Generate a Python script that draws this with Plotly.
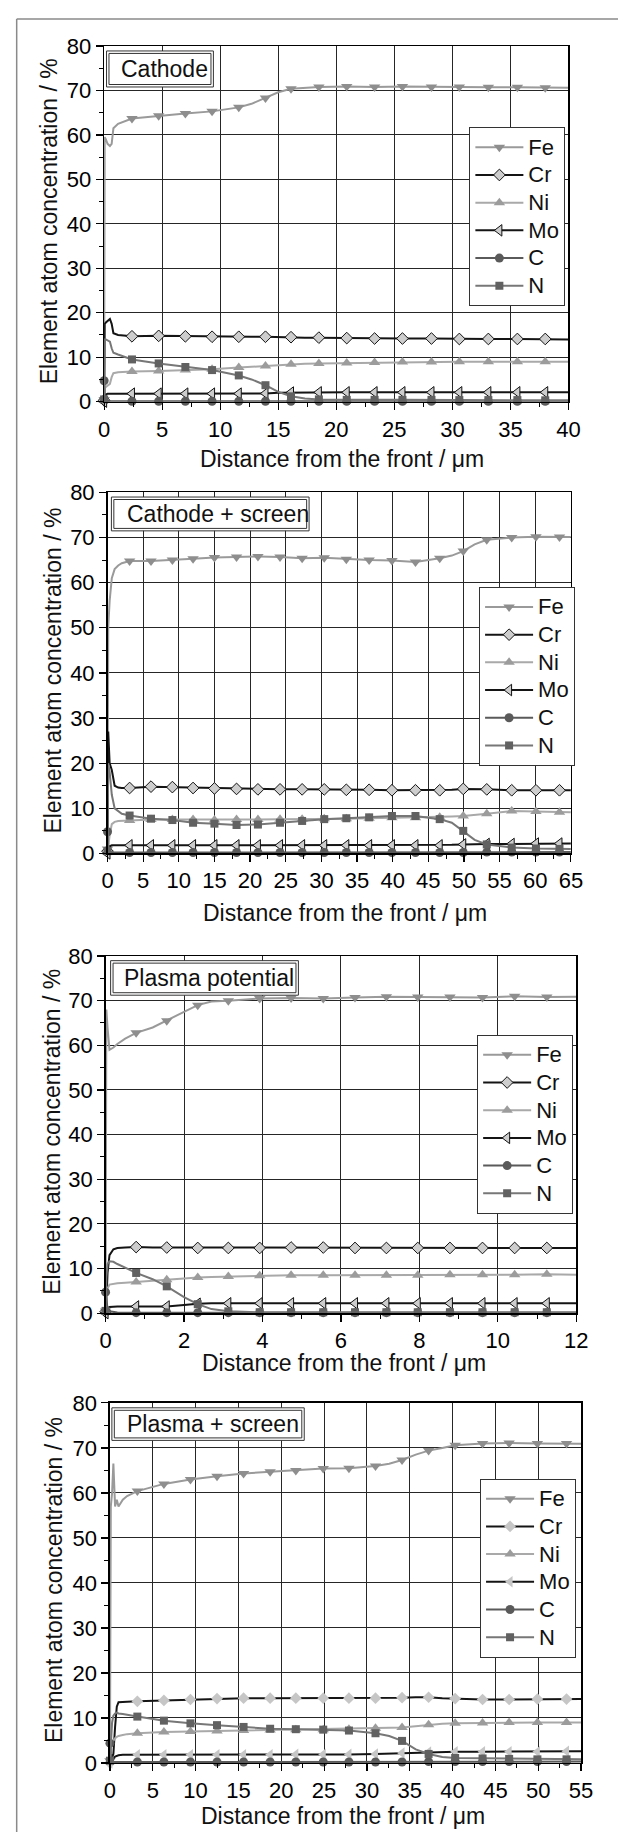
import plotly.graph_objects as go

W, H = 630, 1845
FONT = "Liberation Sans, Arial, Helvetica, sans-serif"

ELEMENTS = ["Fe", "Cr", "Ni", "Mo", "C", "N"]
X_TITLE = "Distance from the front / \u03bcm"
Y_TITLE = "Element atom concentration / %"

# ---------------- Panel 1 : Cathode ----------------
CATH_X = [0, 0.05, 0.15, 0.3, 0.5, 0.65, 0.8, 1.2, 2.4, 4.7, 7.0, 9.3, 11.6, 12.7,
          13.9, 15.0, 16.1, 17.3, 18.5, 20.9, 23.3, 25.7, 28.2, 30.6, 33.1, 35.6, 38.0, 40.0]
CATH_MARK_X = [0, 2.4, 4.7, 7.0, 9.3, 11.6, 13.9, 16.1, 18.5, 20.9, 23.3, 25.7, 28.2,
               30.6, 33.1, 35.6, 38.0]
CATH_FE = [0.5, 59.5, 59.0, 58.0, 57.5, 58.0, 61.5, 62.5, 63.7, 64.3, 64.8, 65.3, 66.2, 67.0,
           68.3, 69.6, 70.4, 70.6, 70.8, 70.9, 70.8, 70.9, 70.8, 70.8, 70.7, 70.7, 70.6, 70.6]
CATH_CR = [0.3, 17.5, 17.8, 18.2, 18.6, 17.5, 15.4, 15.0, 14.7, 14.8, 14.7, 14.6, 14.6, 14.6,
           14.6, 14.5, 14.5, 14.4, 14.4, 14.3, 14.2, 14.2, 14.2, 14.1, 14.1, 14.1, 14.1, 14.0]
CATH_NI = [0.3, 3.0, 3.3, 3.6, 4.0, 5.5, 6.4, 6.6, 6.8, 6.9, 7.1, 7.3, 7.7, 7.8,
           8.0, 8.2, 8.4, 8.5, 8.6, 8.7, 8.8, 8.9, 8.9, 9.0, 9.0, 9.0, 9.0, 9.0]
CATH_MO = [0.0, 1.0, 1.6, 1.8, 1.8, 1.8, 1.8, 1.8, 1.8, 1.8, 1.8, 1.8, 1.8, 1.8,
           1.85, 2.0, 2.05, 2.1, 2.1, 2.1, 2.1, 2.1, 2.1, 2.1, 2.1, 2.1, 2.1, 2.1]
CATH_C = [4.7, 1.5, 0.5, 0.2, 0.15, 0.1, 0.1, 0.1, 0.1, 0.1, 0.1, 0.1, 0.1, 0.1,
          0.1, 0.1, 0.1, 0.1, 0.1, 0.1, 0.1, 0.1, 0.1, 0.1, 0.1, 0.1, 0.1, 0.1]
CATH_N = [0.5, 14.0, 14.0, 13.8, 13.5, 12.0, 11.0, 10.6, 9.5, 8.6, 7.8, 7.1, 5.9, 5.0,
          3.7, 2.2, 1.2, 0.7, 0.5, 0.4, 0.4, 0.4, 0.4, 0.35, 0.35, 0.35, 0.3, 0.3]

# ---------------- Panel 2 : Cathode + screen ----------------
CS_X = [0, 0.1, 0.3, 0.6, 1.0, 1.5, 2.0, 3.1, 6.1, 9.1, 12.0, 15.0, 18.1, 21.1, 24.2,
        27.3, 30.4, 33.5, 36.7, 39.9, 43.2, 46.6, 48.3, 49.9, 51.5, 53.2, 56.7, 60.1, 63.4, 65.0]
CS_MARK_X = [0, 3.1, 6.1, 9.1, 12.0, 15.0, 18.1, 21.1, 24.2, 27.3, 30.4, 33.5, 36.7,
             39.9, 43.2, 46.6, 49.9, 53.2, 56.7, 60.1, 63.4]
CS_FE = [1.0, 50.0, 56.0, 61.0, 63.0, 63.8, 64.3, 64.8, 64.8, 65.0, 65.3, 65.6, 65.7, 65.8, 65.7,
         65.4, 65.5, 65.2, 65.0, 64.9, 64.6, 65.4, 66.0, 67.0, 68.5, 69.5, 70.0, 70.2, 70.1, 70.1]
CS_CR = [0.5, 27.0, 20.0, 18.5, 15.0, 14.6, 14.5, 14.5, 14.8, 14.7, 14.5, 14.4, 14.3, 14.2, 14.2,
         14.2, 14.2, 14.1, 14.1, 14.0, 14.0, 14.0, 14.1, 14.3, 14.3, 14.2, 14.0, 14.0, 14.0, 14.0]
CS_NI = [0.3, 2.0, 4.0, 6.5, 7.0, 7.2, 7.2, 7.3, 7.5, 7.5, 7.5, 7.4, 7.5, 7.5, 7.6,
         7.6, 7.7, 7.7, 7.8, 7.9, 7.9, 8.0, 8.2, 8.3, 8.5, 8.8, 9.4, 9.3, 9.1, 9.1]
CS_MO = [0.0, 1.0, 1.6, 1.8, 1.8, 1.8, 1.8, 1.8, 1.8, 1.8, 1.8, 1.8, 1.8, 1.8, 1.8,
         1.8, 1.8, 1.8, 1.8, 1.8, 1.8, 1.8, 1.9, 2.0, 2.1, 2.1, 2.1, 2.2, 2.2, 2.2]
CS_C = [4.8, 2.0, 0.5, 0.2, 0.2, 0.2, 0.2, 0.2, 0.2, 0.2, 0.2, 0.2, 0.2, 0.2, 0.2,
        0.2, 0.2, 0.2, 0.2, 0.2, 0.2, 0.2, 0.2, 0.2, 0.2, 0.3, 0.3, 0.3, 0.3, 0.3]
CS_N = [0.5, 20.0, 18.0, 13.0, 10.0, 9.3, 8.8, 8.4, 7.7, 7.4, 6.8, 6.6, 6.3, 6.4, 6.8,
        7.2, 7.6, 7.8, 8.0, 8.3, 8.3, 7.6, 6.8, 5.0, 3.0, 2.0, 1.3, 1.1, 1.0, 1.0]

# ---------------- Panel 3 : Plasma potential ----------------
PP_X = [0, 0.02, 0.05, 0.1, 0.2, 0.3, 0.5, 0.78, 1.2, 1.56, 2.0, 2.35, 2.7, 3.13, 3.5,
        3.93, 4.73, 5.55, 6.36, 7.16, 7.96, 8.78, 9.61, 10.43, 11.25, 12.0]
PP_MARK_X = [0, 0.78, 1.56, 2.35, 3.13, 3.93, 4.73, 5.55, 6.36, 7.16, 7.96, 8.78, 9.61,
             10.43, 11.25]
PP_FE = [0.5, 68.0, 64.0, 59.0, 59.5, 60.3, 61.5, 62.8, 64.0, 65.5, 67.5, 69.0, 69.8, 70.0, 70.3,
         70.5, 70.6, 70.5, 70.7, 70.9, 70.8, 70.8, 70.7, 71.0, 70.8, 70.9]
PP_CR = [0.3, 2.0, 9.0, 13.0, 14.3, 14.6, 14.7, 14.8, 14.7, 14.7, 14.6, 14.6, 14.6, 14.6, 14.6,
         14.6, 14.7, 14.7, 14.6, 14.6, 14.6, 14.6, 14.6, 14.6, 14.6, 14.6]
PP_NI = [0.3, 3.0, 5.5, 6.4, 6.6, 6.7, 6.8, 7.0, 7.2, 7.5, 7.8, 8.0, 8.1, 8.2, 8.3,
         8.4, 8.5, 8.5, 8.5, 8.5, 8.5, 8.6, 8.6, 8.6, 8.7, 8.6]
PP_MO = [0.0, 0.5, 1.0, 1.4, 1.5, 1.5, 1.5, 1.5, 1.5, 1.5, 1.8, 2.1, 2.2, 2.2, 2.2,
         2.2, 2.2, 2.2, 2.2, 2.2, 2.2, 2.2, 2.2, 2.2, 2.2, 2.2]
PP_C = [4.7, 3.0, 1.0, 0.4, 0.2, 0.15, 0.1, 0.1, 0.1, 0.1, 0.1, 0.1, 0.1, 0.1, 0.1,
        0.1, 0.1, 0.1, 0.1, 0.1, 0.1, 0.1, 0.1, 0.1, 0.1, 0.1]
PP_N = [0.5, 8.0, 11.0, 11.6, 11.5, 11.0, 10.2, 9.0, 7.6, 6.0, 3.6, 2.0, 0.9, 0.4, 0.3,
        0.2, 0.2, 0.2, 0.2, 0.2, 0.2, 0.2, 0.2, 0.2, 0.2, 0.2]

# ---------------- Panel 4 : Plasma + screen ----------------
PS_X = [0, 0.1, 0.25, 0.4, 0.6, 0.8, 1.0, 1.5, 2.0, 3.2, 6.3, 9.4, 12.5, 15.6, 18.7,
        21.7, 24.9, 27.9, 31.0, 32.6, 34.1, 35.7, 37.2, 38.8, 40.3, 43.5, 46.6, 49.9, 53.3, 55.0]
PS_MARK_X = [0, 3.2, 6.3, 9.4, 12.5, 15.6, 18.7, 21.7, 24.9, 27.9, 31.0, 34.1, 37.2,
             40.3, 43.5, 46.6, 49.9, 53.3]
PS_FE = [0.5, 57.0, 60.0, 66.5, 57.0, 58.5, 57.0, 58.5, 59.3, 60.4, 62.0, 63.0, 63.7, 64.3, 64.7,
         65.0, 65.4, 65.5, 66.0, 66.5, 67.3, 68.5, 69.4, 70.0, 70.6, 71.0, 71.1, 71.0, 71.0, 70.9]
PS_CR = [0.0, 0.5, 1.0, 2.0, 8.0, 12.5, 13.5, 13.6, 13.6, 13.7, 13.9, 14.1, 14.3, 14.4, 14.4,
         14.4, 14.4, 14.4, 14.4, 14.5, 14.5, 14.6, 14.6, 14.4, 14.3, 14.1, 14.1, 14.2, 14.2, 14.2]
PS_NI = [0.3, 3.5, 4.5, 5.0, 5.5, 5.8, 6.0, 6.2, 6.4, 6.6, 6.9, 7.0, 7.1, 7.2, 7.3,
         7.4, 7.4, 7.5, 7.7, 7.8, 7.9, 8.2, 8.5, 8.7, 8.8, 8.9, 9.0, 9.0, 9.0, 9.0]
PS_MO = [0.0, 0.3, 0.6, 1.0, 1.4, 1.6, 1.7, 1.8, 1.8, 1.8, 1.8, 1.8, 1.8, 1.8, 1.8,
         1.9, 1.9, 1.9, 2.0, 2.1, 2.2, 2.3, 2.4, 2.4, 2.5, 2.5, 2.5, 2.5, 2.6, 2.6]
PS_C = [4.4, 2.0, 0.6, 0.3, 0.2, 0.2, 0.2, 0.2, 0.2, 0.2, 0.2, 0.2, 0.2, 0.2, 0.2,
        0.2, 0.2, 0.2, 0.2, 0.2, 0.2, 0.2, 0.3, 0.3, 0.3, 0.3, 0.3, 0.3, 0.3, 0.3]
PS_N = [0.5, 5.0, 9.0, 10.5, 11.0, 11.2, 11.0, 10.9, 10.7, 10.3, 9.4, 8.8, 8.4, 8.0, 7.6,
        7.5, 7.4, 7.2, 6.6, 6.0, 4.9, 3.0, 2.0, 1.3, 1.1, 1.0, 0.9, 0.8, 0.8, 0.8]

PANELS = [
    dict(label="Cathode", x=CATH_X, mark=CATH_MARK_X,
         ys=[CATH_FE, CATH_CR, CATH_NI, CATH_MO, CATH_C, CATH_N], xmax=40, dtick=5),
    dict(label="Cathode + screen", x=CS_X, mark=CS_MARK_X,
         ys=[CS_FE, CS_CR, CS_NI, CS_MO, CS_C, CS_N], xmax=65, dtick=5),
    dict(label="Plasma potential", x=PP_X, mark=PP_MARK_X,
         ys=[PP_FE, PP_CR, PP_NI, PP_MO, PP_C, PP_N], xmax=12, dtick=2),
    dict(label="Plasma + screen", x=PS_X, mark=PS_MARK_X,
         ys=[PS_FE, PS_CR, PS_NI, PS_MO, PS_C, PS_N], xmax=55, dtick=5),
]

for p in PANELS:
    for ys in p["ys"]:
        assert len(ys) == len(p["x"]), (p["label"], len(ys), len(p["x"]))

# ---------------- layout geometry (pixels) ----------------
GEOM = [
    dict(box=(101, 579, 34.5, 395), legend=(477, 117), lab=(103.5, 213.5, 39.5, 76, 116),
         xt=(346, 453), yt=(44.5, 212)),
    dict(box=(104.5, 581.5, 487, 853), legend=(487, 583), lab=(108.5, 312, 491.7, 526, 122.5),
         xt=(349, 913.5), yt=(48, 668)),
    dict(box=(102.5, 587, 957, 1319), legend=(485, 1037), lab=(107.7, 301, 961.7, 996.7, 119.3),
         xt=(348, 1370), yt=(46.5, 1135)),
    dict(box=(107, 592, 1410, 1775), legend=(488, 1487), lab=(109, 307, 1415, 1448, 122.5),
         xt=(347, 1829), yt=(50, 1590)),
]

STYLE = {
    "Fe": dict(line="#9a9a9a", symbol="triangle-down", fill="#8e8e8e", size=10, edge=0),
    "Cr": dict(line="#141414", symbol="diamond", fill="#cdcdcd", size=9, edge=1),
    "Ni": dict(line="#a9a9a9", symbol="triangle-up", fill="#9c9c9c", size=10, edge=0),
    "Mo": dict(line="#141414", symbol="triangle-left", fill="#cdcdcd", size=10, edge=1),
    "C": dict(line="#5a5a5a", symbol="circle", fill="#5a5a5a", size=9, edge=0),
    "N": dict(line="#777777", symbol="square", fill="#616161", size=8, edge=0),
}


def fx(v):
    return v / W


def fy(v):
    return 1 - v / H


AX = dict(showgrid=True, gridcolor="#262626", gridwidth=1, showline=True, linecolor="#000",
          linewidth=1.5, mirror=True, ticks="outside", ticklen=7, tickwidth=1.2,
          tickcolor="#000", zeroline=False,
          tickfont=dict(family=FONT, size=22, color="#000"))

fig = go.Figure()
layout = dict(width=W, height=H, margin=dict(l=0, r=0, t=0, b=0),
              paper_bgcolor="white", plot_bgcolor="white", showlegend=True,
              shapes=[], annotations=[])

# outer frame (left and top edges visible)
layout["shapes"].append(dict(type="line", xref="paper", yref="paper",
                             x0=fx(11), x1=fx(11), y0=0, y1=fy(7),
                             line=dict(color="#8a8a8a", width=1.5), layer="below"))
layout["shapes"].append(dict(type="line", xref="paper", yref="paper",
                             x0=fx(11), x1=1, y0=fy(7), y1=fy(7),
                             line=dict(color="#8a8a8a", width=1.5), layer="below"))

for i, (p, g) in enumerate(zip(PANELS, GEOM), start=1):
    sx = "" if i == 1 else str(i)
    xa, ya = "x" + sx, "y" + sx
    lg = "legend" + sx
    x0, x1, y0, y1 = g["box"]
    layout["xaxis" + sx] = dict(AX, domain=[fx(x0), fx(x1)], anchor=ya,
                                range=[0, p["xmax"]], tick0=0, dtick=p["dtick"],
                                minor=dict(dtick=p["dtick"] / 2, ticks="outside", ticklen=4,
                                           tickwidth=1, tickcolor="#000", showgrid=False))
    layout["yaxis" + sx] = dict(AX, domain=[fy(y1), fy(y0)], anchor=xa,
                                range=[0, 80], tick0=0, dtick=10,
                                minor=dict(dtick=5, ticks="outside", ticklen=4,
                                           tickwidth=1, tickcolor="#000", showgrid=False))
    lx, ly = g["legend"]
    layout[lg] = dict(x=fx(lx), y=fy(ly), xanchor="left", yanchor="top", bgcolor="white",
                      bordercolor="#333", borderwidth=1, tracegroupgap=0, itemwidth=48,
                      font=dict(family=FONT, size=19, color="#111"))

    marks = set(p["mark"])
    for el, ys in zip(ELEMENTS, p["ys"]):
        st = dict(STYLE[el])
        if i == 4 and el in ("Cr", "Mo"):
            st["edge"] = 0
            st["fill"] = "#c6c6c6"
        mk = dict(symbol=st["symbol"], size=st["size"], color=st["fill"],
                  line=dict(width=st["edge"], color="#111"))
        fig.add_trace(go.Scatter(x=p["x"], y=ys, mode="lines", xaxis=xa, yaxis=ya,
                                 line=dict(color=st["line"], width=2),
                                 showlegend=False, hoverinfo="skip"))
        mx = [xv for xv in p["x"] if xv in marks]
        my = [yv for xv, yv in zip(p["x"], ys) if xv in marks]
        fig.add_trace(go.Scatter(x=mx, y=my, mode="markers", xaxis=xa, yaxis=ya,
                                 marker=mk, cliponaxis=False, showlegend=False,
                                 hoverinfo="skip"))
        fig.add_trace(go.Scatter(x=[None], y=[None], mode="lines+markers", xaxis=xa, yaxis=ya,
                                 name='<span style="font-size:22px">%s</span>' % el,
                                 legend=lg, marker=mk,
                                 line=dict(color=st["line"], width=2)))

    # panel label box (double border)
    bx0, bx1, by0, by1, tx = g["lab"]
    layout["shapes"].append(dict(type="rect", xref="paper", yref="paper",
                                 x0=fx(bx0), x1=fx(bx1), y0=fy(by1), y1=fy(by0),
                                 line=dict(color="#333", width=1), fillcolor="white"))
    layout["shapes"].append(dict(type="rect", xref="paper", yref="paper",
                                 x0=fx(bx0 + 2.5), x1=fx(bx1 - 2.5), y0=fy(by1 - 2.5),
                                 y1=fy(by0 + 2.5), line=dict(color="#333", width=1)))
    layout["annotations"].append(dict(text=p["label"], xref="paper", yref="paper",
                                      x=fx(tx), y=fy((by0 + by1) / 2), xanchor="left",
                                      yanchor="middle", showarrow=False,
                                      font=dict(family=FONT, size=23, color="#111")))
    # axis titles
    cx, cy = g["xt"]
    layout["annotations"].append(dict(text=X_TITLE, xref="paper", yref="paper",
                                      x=fx(cx), y=fy(cy), xanchor="center", yanchor="middle",
                                      showarrow=False,
                                      font=dict(family=FONT, size=23, color="#111")))
    cx, cy = g["yt"]
    layout["annotations"].append(dict(text=Y_TITLE, xref="paper", yref="paper",
                                      x=fx(cx), y=fy(cy), xanchor="center", yanchor="middle",
                                      textangle=-90, showarrow=False,
                                      font=dict(family=FONT, size=23, color="#111")))

fig.update_layout(**layout)
fig.write_html("out.html",
               config={"displayModeBar": False, "staticPlot": True},
               post_script="document.body.style.margin='0px';"
                           "document.documentElement.style.overflow='hidden';")
